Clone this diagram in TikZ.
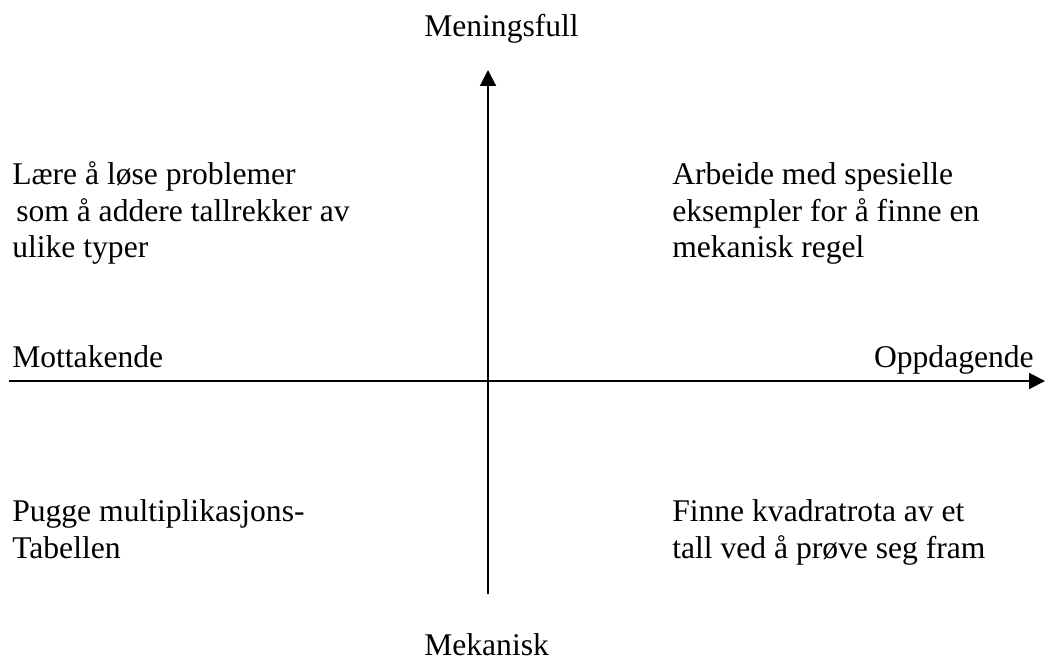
\documentclass[tikz,border=0pt]{standalone}
\usepackage{fontspec}
\setmainfont{Liberation Serif}
\usetikzlibrary{arrows.meta,positioning}

\begin{document}
\begin{tikzpicture}[x=0.75pt, y=-0.75pt,
every node/.style={font=\fontsize{23.7}{27.4}\selectfont, inner sep=0pt},
lbl/.style={anchor=base west},
quad/.style={anchor=base west, align=left},
arr/.style={-{Triangle[length=12pt,width=12pt]}, line width=1.5pt}]
\useasboundingbox (0,0) rectangle (1045,666);
% axes
\coordinate (west) at (9,381);
\coordinate (east) at (1045,381);
\coordinate (south) at (488,594);
\coordinate (north) at (488,70);
\draw[arr] (west) -- (east);
\draw[arr] (south) -- (north);
% axis labels
\node[lbl] (meningsfull) at (424,37) {Meningsfull};
\node[lbl] (mekanisk) at (424,655) {Mekanisk};
\node[lbl] (mottakende) at (12,368) {Mottakende};
\node[anchor=base east] (oppdagende) at (1034,368) {Oppdagende};
% quadrants (base = last line)
\node[quad] (upleft) at (12,258) {Lære å løse problemer\\\hspace{3pt}som å addere tallrekker av\\ulike typer};
\node[quad] (upright) at (672,258) {Arbeide med spesielle\\eksempler for å finne en\\mekanisk regel};
\node[quad] (lowleft) at (12,558) {Pugge multiplikasjons-\\Tabellen};
\node[quad] (lowright) at (672,558) {Finne kvadratrota av et\\tall ved å prøve seg fram};
\end{tikzpicture}
\end{document}
